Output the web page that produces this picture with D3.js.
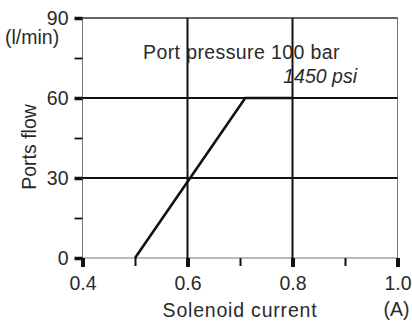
<!DOCTYPE html>
<html>
<head>
<meta charset="utf-8">
<script src="https://cdn.jsdelivr.net/npm/d3@7"></script>
<style>
  html, body { margin: 0; padding: 0; background: #fff; }
  svg { display: block; font-family: "Liberation Sans", Arial, sans-serif; }
</style>
</head>
<body>
<svg id="chart" width="412" height="325"></svg>
<script>
// Flow curve: solenoid current (A) vs ports flow (l/min)
const current = [0.5, 0.71, 0.8];
const flow = [0, 60, 60];

const xMajorTicks = [0.4, 0.6, 0.8, 1.0];
const xMinorTicks = [0.5, 0.7, 0.9];
const yMajorTicks = [0, 30, 60, 90];
const yMinorTicks = [15, 45, 75];
const xGrid = [0.6, 0.8];
const yGrid = [30, 60];

const xTickLabels = ["0.4", "0.6", "0.8", "1.0"];
const yTickLabels = ["0", "30", "60", "90"];

const svg = d3.select("#chart");
const ink = "#111";
const textInk = "#2a2a2a";

const x = d3.scaleLinear().domain([0.4, 1.0]).range([82.5, 397.5]);
const y = d3.scaleLinear().domain([0, 90]).range([258, 18]);

// Plot frame
svg.append("rect")
  .attr("x", x(0.4)).attr("y", y(90))
  .attr("width", x(1.0) - x(0.4)).attr("height", y(0) - y(90))
  .attr("fill", "none").attr("stroke", "#777").attr("stroke-width", 1);
svg.append("line")
  .attr("x1", x(0.4)).attr("x2", x(1.0)).attr("y1", y(90)).attr("y2", y(90))
  .attr("stroke", ink).attr("stroke-width", 1.2);

// Grid lines
svg.selectAll("line.vgrid").data(xGrid).join("line")
  .attr("class", "vgrid")
  .attr("x1", d => x(d)).attr("x2", d => x(d))
  .attr("y1", y(0)).attr("y2", y(90))
  .attr("stroke", ink).attr("stroke-width", 2);
svg.selectAll("line.hgrid").data(yGrid).join("line")
  .attr("class", "hgrid")
  .attr("x1", x(0.4)).attr("x2", x(1.0))
  .attr("y1", d => y(d)).attr("y2", d => y(d))
  .attr("stroke", ink).attr("stroke-width", 2);

// Axes: major ticks with labels, minor ticks without
function styleAxis(g, width) {
  g.select(".domain").remove();
  g.selectAll(".tick line").attr("stroke", ink).attr("stroke-width", width);
  g.selectAll(".tick text")
    .attr("fill", textInk)
    .style("font-size", "19.5px")
    .style("font-family", '"Liberation Sans", Arial, sans-serif');
}

svg.append("g")
  .attr("transform", `translate(0,${y(0)})`)
  .call(d3.axisBottom(x).tickValues(xMajorTicks).tickSize(9).tickPadding(9)
    .tickFormat((d, i) => xTickLabels[i]))
  .call(g => styleAxis(g, 4));
svg.append("g")
  .attr("transform", `translate(0,${y(0)})`)
  .call(d3.axisBottom(x).tickValues(xMinorTicks).tickSize(8).tickFormat(""))
  .call(g => styleAxis(g, 2));

svg.append("g")
  .attr("transform", `translate(${x(0.4)},0)`)
  .call(d3.axisLeft(y).tickValues(yMajorTicks).tickSize(8).tickPadding(6)
    .tickFormat((d, i) => yTickLabels[i]))
  .call(g => styleAxis(g, 3.5));
svg.append("g")
  .attr("transform", `translate(${x(0.4)},0)`)
  .call(d3.axisLeft(y).tickValues(yMinorTicks).tickSize(8).tickFormat(""))
  .call(g => styleAxis(g, 1.8));

// Flow curve
const line = d3.line().x((d, i) => x(current[i])).y((d, i) => y(flow[i]));
svg.append("path")
  .datum(current)
  .attr("d", line)
  .attr("fill", "none")
  .attr("stroke", ink)
  .attr("stroke-width", 2.6)
  .attr("stroke-linejoin", "miter");

// Labels
svg.append("text")
  .attr("x", 5).attr("y", 44)
  .attr("fill", textInk).style("font-size", "19.5px")
  .text("(l/min)");

svg.append("text")
  .attr("transform", "translate(36,147) rotate(-90)")
  .attr("text-anchor", "middle")
  .attr("fill", textInk).style("font-size", "19.5px")
  .text("Ports flow");

svg.append("text")
  .attr("x", x(0.7)).attr("y", 317)
  .attr("text-anchor", "middle")
  .attr("fill", textInk).style("font-size", "19.5px")
  .style("letter-spacing", "0.8px")
  .text("Solenoid current");

svg.append("text")
  .attr("x", x(1.0) - 1).attr("y", 316)
  .attr("text-anchor", "middle")
  .attr("fill", textInk).style("font-size", "19.5px")
  .text("(A)");

svg.append("text")
  .attr("x", 143).attr("y", 59)
  .attr("fill", textInk).style("font-size", "19.5px")
  .style("letter-spacing", "0.4px")
  .text("Port pressure 100 bar");

svg.append("text")
  .attr("x", 357).attr("y", 83)
  .attr("text-anchor", "end")
  .attr("fill", textInk).style("font-size", "19.5px")
  .style("font-style", "italic")
  .text("1450 psi");
</script>
</body>
</html>
